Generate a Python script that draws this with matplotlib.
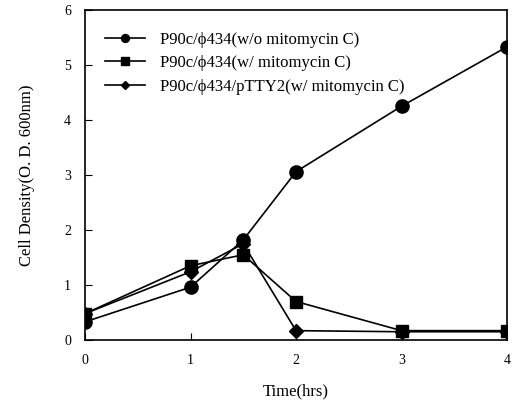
import numpy as np
import matplotlib
matplotlib.use("Agg")
import matplotlib.pyplot as plt

plt.rcParams['font.family'] = ['Liberation Serif', 'DejaVu Serif']

# Data
time_hrs = [0, 1, 1.5, 2, 3, 4]
no_mito = [0.33, 0.96, 1.82, 3.06, 4.25, 5.33]
with_mito = [0.48, 1.35, 1.55, 0.70, 0.17, 0.17]
pTTY2_mito = [0.48, 1.24, 1.75, 0.17, 0.15, 0.15]
labels = ['P90c/\u03d5434(w/o mitomycin C)',
          'P90c/\u03d5434(w/ mitomycin C)',
          'P90c/\u03d5434/pTTY2(w/ mitomycin C)']

fig = plt.figure(figsize=(5.17, 4.03), dpi=100)
ax = fig.add_axes([85/517, 1 - 340/403, 422/517, 330/403])

ax.plot(time_hrs, no_mito, color='black', lw=1.2, marker='o', ms=9.5, label=labels[0])
ax.plot(time_hrs, with_mito, color='black', lw=1.2, marker='s', ms=8.5, label=labels[1])
ax.plot(time_hrs, pTTY2_mito, color='black', lw=1.2, marker='D', ms=7.5, label=labels[2])

ax.set_xlim(0, 4)
ax.set_ylim(0, 6)
ax.set_xticks([0, 1, 2, 3, 4])
ax.set_yticks([0, 1, 2, 3, 4, 5, 6])
ax.tick_params(direction='in', length=5, labelsize=10, pad=10)
for s in ax.spines.values():
    s.set_linewidth(1.2)

ax.set_xlabel('Time(hrs)', fontsize=12, labelpad=12)
ax.set_ylabel('Cell Density(O. D. 600nm)', fontsize=12, labelpad=21)

leg = ax.legend(loc='upper left', frameon=False, fontsize=12, handlelength=2.4,
                handletextpad=0.9, markerscale=0.6, labelspacing=0.45,
                bbox_to_anchor=(0.013, 0.98))

fig.savefig('out.png', dpi=100)
